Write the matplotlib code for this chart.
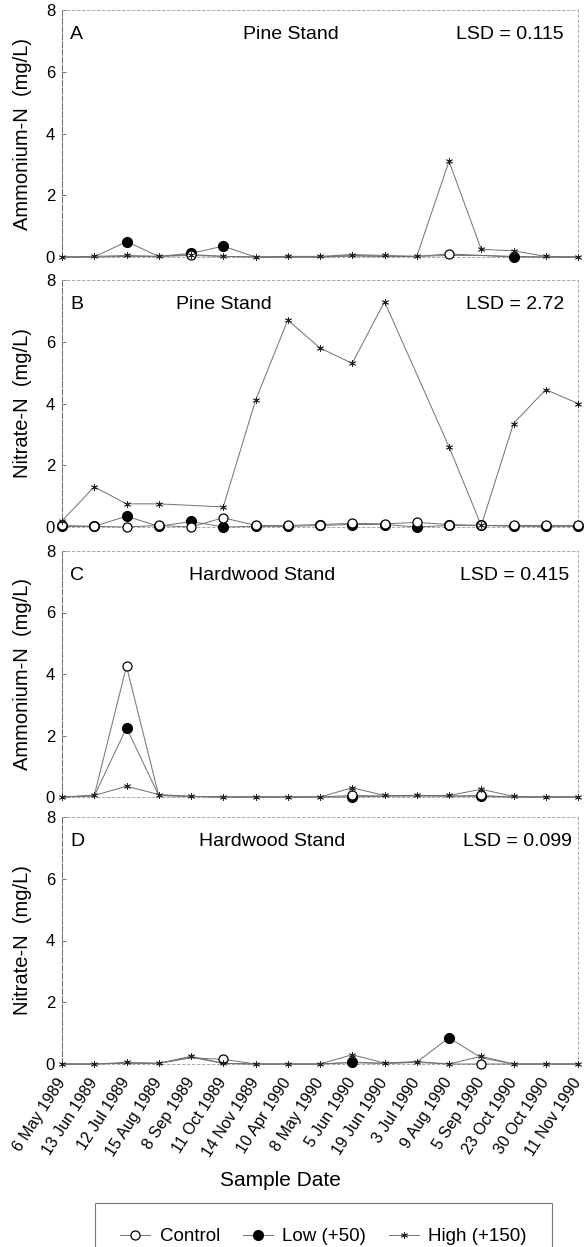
import numpy as np
import matplotlib
matplotlib.use("Agg")
import matplotlib.pyplot as plt
from matplotlib.lines import Line2D

plt.rcParams['font.family'] = ['Liberation Sans', 'DejaVu Sans']

dates = ["6 May 1989", "13 Jun 1989", "12 Jul 1989", "15 Aug 1989", "8 Sep 1989",
         "11 Oct 1989", "14 Nov 1989", "10 Apr 1990", "8 May 1990", "5 Jun 1990",
         "19 Jun 1990", "3 Jul 1990", "9 Aug 1990", "5 Sep 1990", "23 Oct 1990",
         "30 Oct 1990", "11 Nov 1990"]

# Panel A: Pine stand, ammonium-N
a_control = [0, 0, 0.02, 0.02, 0.08, 0.02, 0, 0, 0, 0.05, 0.02, 0.02, 0.10, 0.05, 0.02, 0, 0]
a_low     = [0, 0, 0.50, 0.02, 0.12, 0.35, 0, 0, 0, 0.03, 0.02, 0.02, 0.05, 0.05, 0.0, 0, 0]
a_high    = [0, 0.02, 0.05, 0.02, 0.05, 0.02, 0, 0.02, 0.02, 0.08, 0.05, 0.02, 3.10, 0.25, 0.20, 0.02, 0]

# Panel B: Pine stand, nitrate-N
b_control = [0.05, 0.02, 0.0, 0.05, 0.0, 0.30, 0.05, 0.05, 0.08, 0.12, 0.10, 0.15, 0.08, 0.05, 0.05, 0.05, 0.05]
b_low     = [0.02, 0.02, 0.35, 0.02, 0.18, 0.0, 0.02, 0.02, 0.05, 0.08, 0.08, 0.0, 0.05, 0.05, 0.02, 0.02, 0.02]
b_high    = [0.20, 1.30, 0.75, 0.75, None, 0.65, 4.10, 6.70, 5.80, 5.30, 7.30, None, 2.60, 0.05, 3.35, 4.45, 4.00]

# Panel C: Hardwood stand, ammonium-N
c_control = [0, 0.05, 4.25, 0.05, 0.02, 0, 0, 0, 0, 0.05, 0.03, 0.05, 0.03, 0.05, 0, 0, 0]
c_low     = [0, 0.03, 2.25, 0.05, 0.02, 0, 0, 0, 0, 0.0, 0.03, 0.03, 0.03, 0.02, 0, 0, 0]
c_high    = [0, 0.05, 0.35, 0.08, 0.02, 0, 0, 0, 0, 0.30, 0.05, 0.05, 0.05, 0.25, 0.02, 0, 0]

# Panel D: Hardwood stand, nitrate-N
d_control = [0, 0, 0.03, 0.02, 0.20, 0.15, 0, 0, 0, 0.05, 0.02, 0.05, 0, 0.0, 0, 0, 0]
d_low     = [0, 0, 0.03, 0.02, 0.22, 0.02, 0, 0, 0, 0.05, 0.02, 0.06, 0.85, 0.20, 0, 0, 0]
d_high    = [0, 0, 0.05, 0.02, 0.25, 0.02, 0, 0, 0, 0.30, 0.03, 0.08, 0, 0.25, 0, 0, 0]

# sample dates whose markers are visible in the original (others hidden under overlap)
ALL = list(range(17))
a_marked = ([4, 12], [2, 4, 5, 14], ALL)
b_marked = (ALL, ALL, ALL)
c_marked = ([2, 9, 13], [2, 9, 13], ALL)
d_marked = ([5, 13], [9, 12], ALL)

panel_letters = ["A", "B", "C", "D"]
panel_titles = ["Pine Stand", "Pine Stand", "Hardwood Stand", "Hardwood Stand"]
lsd_labels = ["LSD = 0.115", "LSD = 2.72", "LSD = 0.415", "LSD = 0.099"]
ylabels = ["Ammonium-N  (mg/L)", "Nitrate-N  (mg/L)", "Ammonium-N  (mg/L)", "Nitrate-N  (mg/L)"]
series_names = ["Control", "Low (+50)", "High (+150)"]
yticks = [0, 2, 4, 6, 8]

panels = [(a_control, a_low, a_high), (b_control, b_low, b_high),
          (c_control, c_low, c_high), (d_control, d_low, d_high)]
marked = [a_marked, b_marked, c_marked, d_marked]

W, H = 587, 1247
fig = plt.figure(figsize=(W / 100, H / 100), dpi=100)

# pixel boxes (top, bottom) for each panel
boxes = [(10, 257), (280, 527), (551, 797), (817, 1064)]
left_px, right_px = 62, 578
title_x = [0.444, 0.314, 0.388, 0.407]
lsd_x = [0.973, 0.973, 0.984, 0.988]

line_kw = dict(color="#707070", lw=0.7)
styles = [
    dict(marker="o", mfc="white", mec="black", ms=6.5, mew=0.9),
    dict(marker="o", mfc="black", mec="black", ms=7),
    dict(marker=(6, 2, 0), mfc="black", mec="#222222", ms=5, mew=0.6),
]
zorders = [5, 4, 6]

x = np.arange(len(dates))
for i, (top, bot) in enumerate(boxes):
    ax = fig.add_axes([left_px / W, 1 - bot / H, (right_px - left_px) / W, (bot - top) / H])
    for s, st, mk, zo in zip(panels[i], styles, marked[i], zorders):
        vals = np.array([np.nan if v is None else v for v in s], dtype=float)
        m = ~np.isnan(vals)
        ax.plot(x[m], vals[m], **line_kw, zorder=3, clip_on=False)
        idx = np.array([k for k in mk if m[k]])
        ax.plot(x[idx], vals[idx], linestyle="none", **st, zorder=zo, clip_on=False)
    ax.set_xlim(0, len(dates) - 1)
    ax.set_ylim(0, 8)
    ax.set_yticks(yticks)
    ax.set_yticklabels([str(t) for t in yticks], fontsize=12)
    ax.tick_params(axis="y", direction="in", length=3, width=0.6, pad=5, color="#555555")
    ax.set_ylabel(ylabels[i], fontsize=14.5)
    ax.yaxis.set_label_coords(-0.058, 0.5)
    for side in ["top", "right", "bottom"]:
        ax.spines[side].set_linestyle((0, (3, 3)))
        ax.spines[side].set_color("#999999")
        ax.spines[side].set_linewidth(0.6)
    ax.spines["left"].set_color("#666666")
    ax.spines["left"].set_linestyle((0, (6, 2)))
    ax.spines["left"].set_linewidth(0.7)
    ax.text(0.016, 0.90, panel_letters[i], transform=ax.transAxes, fontsize=14,
            ha="left", va="center")
    ax.text(title_x[i], 0.90, panel_titles[i], transform=ax.transAxes, fontsize=14,
            ha="center", va="center")
    ax.text(lsd_x[i], 0.90, lsd_labels[i], transform=ax.transAxes, fontsize=14,
            ha="right", va="center")
    ax.set_xticks(x)
    if i < 3:
        ax.tick_params(axis="x", length=0, labelbottom=False)
    else:
        ax.tick_params(axis="x", length=0, pad=11)
        ax.set_xticklabels(dates, rotation=57, ha="right", va="center",
                           rotation_mode="anchor", fontsize=11.5)

fig.text(280 / W, 1 - 1180 / H, "Sample Date", fontsize=15, ha="center", va="center")

handles = [Line2D([], [], **line_kw, **st) for st in styles]
leg_l, leg_r, leg_t = 95, 552, 1203
leg = fig.legend(handles, series_names, loc="upper left", ncol=3, mode="expand",
                 bbox_to_anchor=(leg_l / W, 0, (leg_r - leg_l) / W, 1 - leg_t / H),
                 fontsize=13.5, frameon=True, fancybox=False, edgecolor="#555555",
                 borderpad=1.35, borderaxespad=0, handlelength=1.6, handletextpad=0.5,
                 columnspacing=1.5)
leg.get_frame().set_linewidth(0.8)

fig.savefig("out.png", dpi=100)
